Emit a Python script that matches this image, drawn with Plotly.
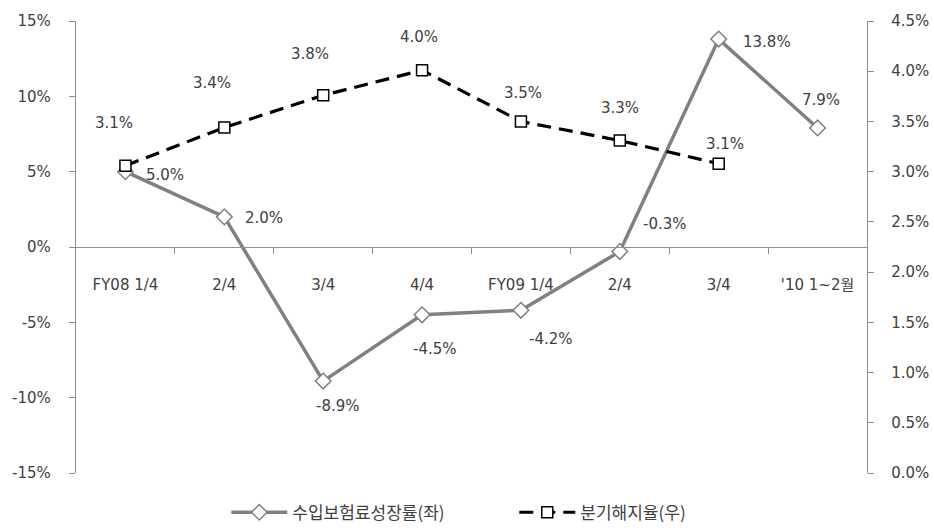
import plotly.graph_objects as go

# Quarter labels along the bottom
categories = ["FY08 1/4", "2/4", "3/4", "4/4", "FY09 1/4", "2/4", "3/4", "'10 1~2월"]
# 수입보험료성장률 (left axis, %)
premium_growth = [5.0, 2.0, -8.9, -4.5, -4.2, -0.3, 13.8, 7.9]
# 분기해지율 (right axis, %)
lapse_rate = [3.06, 3.44, 3.76, 4.01, 3.50, 3.31, 3.08]

left_ticks = [-15, -10, -5, 0, 5, 10, 15]
right_ticks = [0.0, 0.5, 1.0, 1.5, 2.0, 2.5, 3.0, 3.5, 4.0, 4.5]

FONT = "DejaVu Sans, Noto Sans CJK KR, sans-serif"
TEXT = "#404040"
AXIS = "#8c8c8c"
FS = 15

x_idx = list(range(len(categories)))

fig = go.Figure()
fig.add_trace(go.Scatter(
    x=x_idx, y=premium_growth, name="수입보험료성장률(좌)", mode="lines+markers",
    line=dict(color="#808080", width=3.5),
    marker=dict(symbol="diamond", size=12, color="white", line=dict(color="#808080", width=1.5)),
    yaxis="y",
))
fig.add_trace(go.Scatter(
    x=x_idx[:len(lapse_rate)], y=lapse_rate, name="분기해지율(우)", mode="lines+markers",
    line=dict(color="black", width=3.2, dash="14px,8px"),
    marker=dict(symbol="square", size=11, color="white", line=dict(color="black", width=1.5)),
    yaxis="y2",
))

# Label offsets (px) for the growth-rate points
g_off = [(40, -3), (40, -1), (15, -25), (13, -34), (30, -29), (45, 28), (48, -3), (3, 28)]
for xi, v, (dx, dy) in zip(x_idx, premium_growth, g_off):
    fig.add_annotation(x=xi, y=v, xref="x", yref="y", text=f"{v:.1f}%", showarrow=False,
                       xshift=dx, yshift=dy, font=dict(family=FONT, size=FS, color=TEXT))

# Label offsets (px) for the lapse-rate points
l_off = [(-11, 43), (-12, 44), (-13, 41), (-3, 33), (2, 28), (0, 33), (6, 20)]
for xi, v, (dx, dy) in zip(x_idx, lapse_rate, l_off):
    fig.add_annotation(x=xi, y=v, xref="x", yref="y2", text=f"{v:.1f}%", showarrow=False,
                       xshift=dx, yshift=dy, font=dict(family=FONT, size=FS, color=TEXT))

fig.update_layout(
    width=934, height=528,
    margin=dict(l=76, r=67, t=21, b=55, autoexpand=False),
    paper_bgcolor="white", plot_bgcolor="white",
    font=dict(family=FONT, size=FS, color=TEXT),
    showlegend=True,
    legend=dict(orientation="h", x=0.19, xanchor="left", y=-0.048, yanchor="top",
                font=dict(family="Noto Sans CJK KR, sans-serif", size=17, color=TEXT),
                itemwidth=56, entrywidth=217, entrywidthmode="pixels", tracegroupgap=0),
    xaxis=dict(
        range=[-0.5, len(categories) - 0.5],
        tickmode="array", tickvals=x_idx, ticktext=categories,
        ticks="", showgrid=False, zeroline=False,
        showline=True, linecolor=AXIS, linewidth=1.3,
        anchor="free", position=0.5,
        ticklabelstandoff=24,
        tickfont=dict(family=FONT, size=FS, color=TEXT),
        minor=dict(tickmode="array", tickvals=[i + 0.5 for i in x_idx[:-1]],
                   ticks="outside", ticklen=6, tickcolor=AXIS, tickwidth=1.3),
    ),
    yaxis=dict(
        range=[-15, 15], tickmode="array", tickvals=left_ticks,
        ticktext=[f"{t}%" for t in left_ticks],
        showgrid=False, zeroline=False,
        showline=True, linecolor=AXIS, linewidth=1.3,
        ticks="outside", ticklen=6, tickcolor=AXIS, tickwidth=1.3,
        ticklabelstandoff=15,
        tickfont=dict(family=FONT, size=FS, color=TEXT),
    ),
    yaxis2=dict(
        range=[0, 4.5], overlaying="y", side="right", tickmode="array",
        tickvals=right_ticks, ticktext=[f"{t:.1f}%" for t in right_ticks],
        showgrid=False, zeroline=False,
        showline=True, linecolor=AXIS, linewidth=1.3,
        ticks="outside", ticklen=6, tickcolor=AXIS, tickwidth=1.3,
        ticklabelstandoff=14,
        tickfont=dict(family=FONT, size=FS, color=TEXT),
    ),
)

fig.write_html("out.html")
